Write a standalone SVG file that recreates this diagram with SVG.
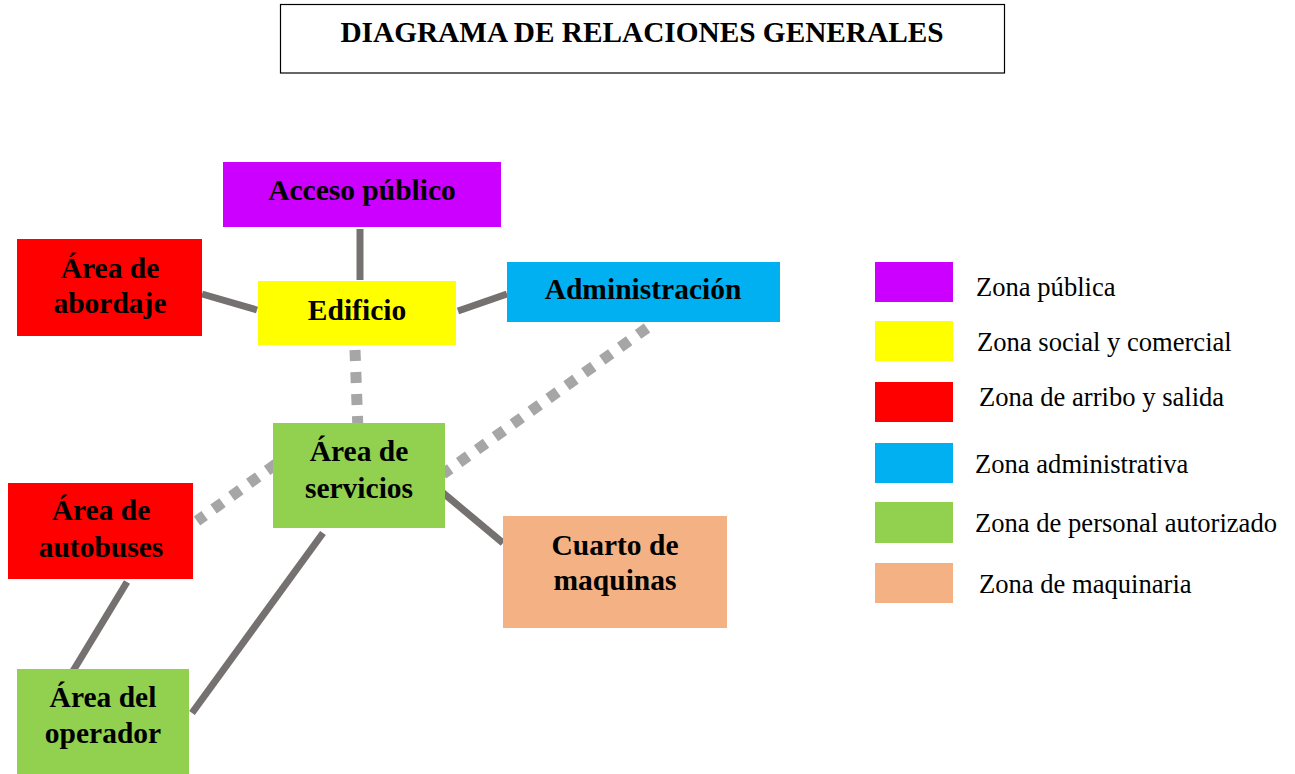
<svg xmlns="http://www.w3.org/2000/svg" width="1295" height="774" viewBox="0 0 1295 774">
<style>
.t{font-family:"Liberation Serif","Times New Roman",serif;font-weight:bold;font-size:29.5px;fill:#000;text-anchor:middle}
.lg{font-family:"Liberation Serif","Times New Roman",serif;font-size:26.6px;fill:#000}
.solid{stroke:#767171;stroke-width:7;fill:none}
.dot{stroke:#a6a6a6;stroke-width:11;stroke-dasharray:11 11;fill:none}
</style>
<rect width="1295" height="774" fill="#fff"/>
<g id="title">
<rect x="280.5" y="4.5" width="724" height="68.5" fill="#fff" stroke="#000" stroke-width="1.2"/>
<text class="t" x="642" y="42" style="font-size:29.3px">DIAGRAMA DE RELACIONES GENERALES</text>
</g>
<g id="connectors">
<line class="solid" x1="360" y1="229" x2="360" y2="280"/>
<line class="solid" x1="202" y1="294" x2="257" y2="310"/>
<line class="solid" x1="458" y1="311" x2="507" y2="294"/>
<line class="solid" x1="442" y1="492" x2="503" y2="543"/>
<line class="solid" x1="127" y1="582" x2="73" y2="671"/>
<line class="solid" x1="323" y1="533" x2="192" y2="713"/>
<line class="dot" x1="355" y1="350" x2="358" y2="431"/>
<line class="dot" x1="647" y1="328" x2="443" y2="474"/>
<line class="dot" x1="276" y1="464" x2="197" y2="521"/>
</g>
<g id="acceso">
<rect x="223" y="162" width="278" height="65" fill="#cc00ff"/>
<text class="t" x="362" y="200">Acceso público</text>
</g>
<g id="abordaje">
<rect x="17" y="239" width="185" height="97" fill="#ff0000"/>
<text class="t" x="110" y="278">Área de</text>
<text class="t" x="110" y="313">abordaje</text>
</g>
<g id="edificio">
<rect x="258" y="281" width="198" height="64" fill="#ffff00"/>
<text class="t" x="357" y="320">Edificio</text>
</g>
<g id="administracion">
<rect x="507" y="262" width="273" height="60" fill="#00b0f0"/>
<text class="t" x="643" y="299">Administración</text>
</g>
<g id="servicios">
<rect x="273" y="423" width="172" height="105" fill="#92d050"/>
<text class="t" x="359" y="461">Área de</text>
<text class="t" x="359" y="498">servicios</text>
</g>
<g id="autobuses">
<rect x="8" y="483" width="185" height="96" fill="#ff0000"/>
<text class="t" x="101" y="520">Área de</text>
<text class="t" x="101" y="557">autobuses</text>
</g>
<g id="operador">
<rect x="17" y="669" width="172" height="105" fill="#92d050"/>
<text class="t" x="103" y="707">Área del</text>
<text class="t" x="103" y="743">operador</text>
</g>
<g id="cuarto">
<rect x="503" y="516" width="224" height="112" fill="#f4b183"/>
<text class="t" x="615" y="555">Cuarto de</text>
<text class="t" x="615" y="590">maquinas</text>
</g>
<g id="legend">
<rect x="875" y="262" width="78" height="40" fill="#cc00ff"/>
<text class="lg" x="976" y="296">Zona pública</text>
<rect x="875" y="321" width="78" height="40" fill="#ffff00"/>
<text class="lg" x="977" y="351">Zona social y comercial</text>
<rect x="875" y="382" width="78" height="40" fill="#ff0000"/>
<text class="lg" x="979" y="406">Zona de arribo y salida</text>
<rect x="875" y="443" width="78" height="40" fill="#00b0f0"/>
<text class="lg" x="975" y="473">Zona administrativa</text>
<rect x="875" y="502" width="78" height="41" fill="#92d050"/>
<text class="lg" x="975" y="532">Zona de personal autorizado</text>
<rect x="875" y="563" width="78" height="40" fill="#f4b183"/>
<text class="lg" x="979" y="593">Zona de maquinaria</text>
</g>
</svg>
